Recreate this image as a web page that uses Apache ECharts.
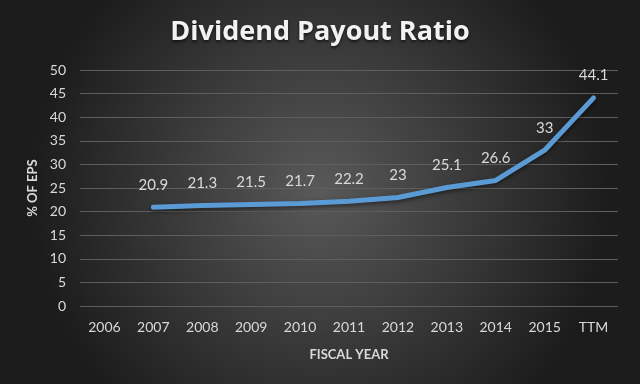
<!DOCTYPE html>
<html><head><meta charset="utf-8">
<script src="https://cdn.jsdelivr.net/npm/echarts@6/dist/echarts.min.js"></script>
<style>html,body{margin:0;padding:0;background:#2b2b2b}#c{width:640px;height:384px}</style>
</head><body><div id="c"></div>
<script>
var categories = ['2006','2007','2008','2009','2010','2011','2012','2013','2014','2015','TTM'];
var payout = [null, 20.9, 21.3, 21.5, 21.7, 22.2, 23, 25.1, 26.6, 33, 44.1];
var yTicks = {min: 0, max: 50, interval: 5};

var chart = echarts.init(document.getElementById('c'));
chart.setOption({
  backgroundColor: {
    type: 'radial', x: 0.5, y: 0.5, r: 0.75,
    colorStops: [{offset: 0, color: '#595959'}, {offset: 1, color: '#1c1c1c'}]
  },
  title: {
    text: 'Dividend Payout Ratio', left: 'center', top: 14,
    textStyle: {color: '#f2f2f2', fontSize: 27, fontWeight: 'bold', fontFamily: 'Open Sans', textShadowColor: 'rgba(0,0,0,0.6)', textShadowBlur: 3, textShadowOffsetY: 2}
  },
  grid: {left: 80, right: 22, top: 70, bottom: 78, containLabel: false},
  xAxis: {
    type: 'category', data: categories, boundaryGap: true,
    axisLine: {show: false}, axisTick: {show: false},
    axisLabel: {color: '#d9d9d9', fontSize: 14, fontFamily: 'Lato', margin: 14},
    name: 'FISCAL YEAR', nameLocation: 'middle', nameGap: 42,
    nameTextStyle: {color: '#d9d9d9', fontSize: 13, fontWeight: 'bold', fontFamily: 'Lato'}
  },
  yAxis: {
    type: 'value', min: yTicks.min, max: yTicks.max, interval: yTicks.interval,
    axisLine: {show: false}, axisTick: {show: false},
    axisLabel: {color: '#d9d9d9', fontSize: 14, fontFamily: 'Lato', margin: 14},
    splitLine: {lineStyle: {color: '#5e5e5e', width: 1}},
    name: '% OF EPS', nameLocation: 'middle', nameGap: 40, nameRotate: 90,
    nameTextStyle: {color: '#d9d9d9', fontSize: 13, fontWeight: 'bold', fontFamily: 'Lato'}
  },
  series: [{
    type: 'line', data: payout, symbol: 'circle', symbolSize: 2, showSymbol: true,
    itemStyle: {color: 'rgba(91,155,213,0)', borderWidth: 0},
    connectNulls: false,
    lineStyle: {color: '#5b9bd5', width: 5, cap: 'round', join: 'round', shadowColor: 'rgba(0,0,0,0.5)', shadowBlur: 4, shadowOffsetY: 2},
    label: {show: true, position: 'top', distance: 14, color: '#d9d9d9', opacity: 1, fontSize: 15, fontFamily: 'Lato'},
    labelLayout: {hideOverlap: false}
  }],
  animation: false
});
</script></body></html>
